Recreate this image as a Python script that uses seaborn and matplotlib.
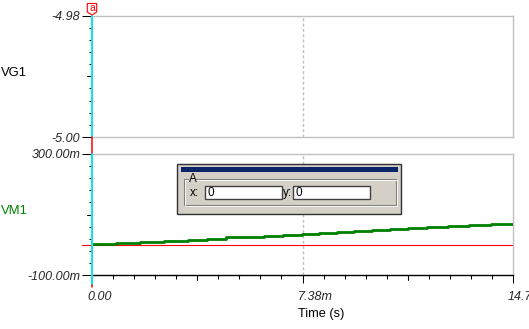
import matplotlib
matplotlib.use("Agg")
import matplotlib.pyplot as plt
import matplotlib.transforms as mtransforms
from matplotlib.patches import Rectangle, Polygon
from matplotlib.lines import Line2D
import seaborn as sns
import numpy as np
import pandas as pd

# ---- data ----
time_ms = [0.00, 0.245, 0.84, 1.68, 2.52, 3.37, 4.03, 4.70, 5.36, 6.03, 6.70, 7.36,
           7.96, 8.59, 9.19, 9.82, 10.45, 11.08, 11.75, 12.48, 13.22, 13.99, 14.76]
vm1_mV = [1.5, 3.5, 6.8, 10.1, 13.4, 16.7, 20.5, 24.0, 26.6, 29.9, 33.2, 36.5,
          39.8, 43.1, 46.4, 49.8, 53.1, 56.4, 59.7, 63.0, 66.3, 69.6, 69.6]
x_ticks = [0.0, 7.38, 14.76]
x_tick_labels = ["0.00", "7.38m", "14.76m"]
vg1_ticks = [-5.00, -4.98]
vg1_tick_labels = ["-5.00", "-4.98"]
vm1_ticks = [-100, 300]
vm1_tick_labels = ["-100.00m", "300.00m"]
cursor_x_label = "0"
cursor_y_label = "0"

W, H = 529, 329
sns.set_theme(style="white")
plt.rcParams["font.family"] = ["Liberation Sans", "DejaVu Sans"]
plt.rcParams["lines.scale_dashes"] = False

fig = plt.figure(figsize=(W / 100, H / 100), dpi=100)
fig.patch.set_facecolor("white")

def fx(px):
    return px / W

def fy(py):
    return 1 - py / H

L, R = 92, 513
ax1 = fig.add_axes([fx(L), fy(137), fx(R) - fx(L), fy(15.5) - fy(137)])
ax2 = fig.add_axes([fx(L), fy(275), fx(R) - fx(L), fy(154) - fy(275)])

GRAY = "#c0c0c0"
for ax in (ax1, ax2):
    ax.set_facecolor("white")
    ax.set_xlim(0, 14.76)
    for s in ("top", "right", "bottom"):
        ax.spines[s].set_color(GRAY)
        ax.spines[s].set_linewidth(1.0)
    ax.spines["left"].set_visible(False)
    ax.axvline(7.38, color=GRAY, lw=1.0, ls=(0, (2.2, 1.6)), zorder=0)
    ax.grid(False)

ax2.spines["bottom"].set_color("black")

# ---- VG1 panel ----
ax1.set_ylim(-5.00, -4.98)
ax1.set_xticks([])
ax1.set_yticks(vg1_ticks)
ax1.set_yticklabels(vg1_tick_labels)
ax1.set_yticks(np.arange(-5.00, -4.9799, 0.002), minor=True)

# ---- VM1 panel ----
ax2.set_ylim(-100, 300)
ax2.set_yticks(vm1_ticks)
ax2.set_yticklabels(vm1_tick_labels)
ax2.set_yticks(np.arange(-100, 301, 40), minor=True)
ax2.set_xticks(x_ticks)
ax2.set_xticklabels(x_tick_labels)
ax2.set_xticks(np.arange(0, 14.77, 0.738), minor=True)

for ax in (ax1, ax2):
    ax.tick_params(axis="y", which="major", length=7.5, width=0.75, color="black",
                   left=True, pad=0.8, labelsize=9)
    ax.tick_params(axis="y", which="minor", length=2.3, width=0.75, color="black", left=True)
    for lab in ax.get_yticklabels():
        lab.set_fontstyle("italic")
ax2.tick_params(axis="x", which="major", length=6, width=0.75, color="black",
                bottom=True, pad=5.5, labelsize=9)
ax2.tick_params(axis="x", which="minor", length=2.6, width=0.75, color="black", bottom=True)
off = mtransforms.ScaledTranslation(-5 / 100, 0, fig.dpi_scale_trans)
for lab in ax2.get_xticklabels():
    lab.set_fontstyle("italic")
    lab.set_horizontalalignment("left")
    lab.set_transform(lab.get_transform() + off)

# medium ticks
def med_ytick(ax, y):
    tr = mtransforms.blended_transform_factory(ax.transAxes, ax.transData)
    ax.add_line(Line2D([0, -5 / 421], [y, y], transform=tr, color="black",
                       lw=0.75, clip_on=False))

def med_xtick(ax, x):
    tr = mtransforms.blended_transform_factory(ax.transData, ax.transAxes)
    ax.add_line(Line2D([x, x], [0, -5 / 121], transform=tr, color="black",
                       lw=0.75, clip_on=False))

med_ytick(ax1, -4.99)
med_ytick(ax2, 100)
for xq in (3.69, 11.07):
    med_xtick(ax2, xq)

# zero reference line
ax2.axhline(0, xmin=-10 / 421, xmax=1, color="#ff0000", lw=0.8, clip_on=False, zorder=2)

# VM1 trace
df = pd.DataFrame({"t": time_ms, "v": vm1_mV})
sns.lineplot(data=df, x="t", y="v", ax=ax2, color="#008000", lw=2.0,
             drawstyle="steps-post", estimator=None, sort=False, zorder=3)
ax2.set_xlim(0, 14.76)
ax2.set_ylim(-100, 300)
ax2.set_xlabel("")
ax2.set_ylabel("")

# axis titles
fig.text(fx(298), fy(314), "Time (s)", ha="left", va="center", fontsize=9.2, color="black")
fig.text(fx(1), fy(73), "VG1", ha="left", va="center", fontsize=9.4, color="black")
fig.text(fx(1), fy(211), "VM1", ha="left", va="center", fontsize=9.4, color="#008000")

# cursor lines
def fline(x0, y0, x1, y1, **kw):
    fig.add_artist(Line2D([fx(x0), fx(x1)], [fy(y0), fy(y1)], transform=fig.transFigure, **kw))

fline(92, 15.5, 92, 137, color="#00e8f0", lw=1.4, zorder=10)
fline(92, 137, 92, 154, color="#ff0000", lw=1.1, zorder=10)
fline(92, 154, 92, 285, color="#00e8f0", lw=1.4, zorder=10)
fline(92, 285, 92, 286.5, color="#ff0000", lw=1.1, zorder=10)

# cursor marker "a"
fig.add_artist(Polygon([(fx(87.3), fy(3.5)), (fx(96.7), fy(3.5)), (fx(96.7), fy(12)),
                        (fx(92), fy(15)), (fx(87.3), fy(12))], closed=True,
                       transform=fig.transFigure, facecolor="white", edgecolor="#ff0000",
                       lw=0.8, zorder=11))
fig.text(fx(92), fy(8), "a", ha="center", va="center", fontsize=7.5, color="#ff0000", zorder=12)

# ---- cursor dialog ----
def frect(x0, y0, x1, y1, **kw):
    fig.add_artist(Rectangle((fx(x0), fy(y1)), fx(x1) - fx(x0), fy(y0) - fy(y1),
                             transform=fig.transFigure, **kw))

frect(177, 163.5, 401, 213.5, facecolor="#d4d0c8", edgecolor="#303030", lw=1.0, zorder=20)
frect(180.5, 166.5, 397.5, 172, facecolor="#0a246a", edgecolor="none", zorder=21)
frect(184, 178.5, 396, 205, facecolor="none", edgecolor="#808080", lw=0.8, zorder=21)
frect(185, 179.5, 397, 206, facecolor="none", edgecolor="white", lw=0.6, zorder=21)
frect(189, 174, 196, 183, facecolor="#d4d0c8", edgecolor="none", zorder=22)
fig.text(fx(192.5), fy(179.5), "A", ha="center", va="center", fontsize=8.5, color="black", zorder=23)
for (a, b) in ((205, 282), (293, 370)):
    frect(a, 186, b, 198.5, facecolor="white", edgecolor="#404040", lw=1.0, zorder=21)
fig.text(fx(190), fy(193), "x:", ha="left", va="center", fontsize=8.5, color="black", zorder=23)
fig.text(fx(283), fy(193), "y:", ha="left", va="center", fontsize=8.5, color="black", zorder=23)
fig.text(fx(208), fy(193), cursor_x_label, ha="left", va="center", fontsize=8.5, color="black", zorder=23)
fig.text(fx(296), fy(193), cursor_y_label, ha="left", va="center", fontsize=8.5, color="black", zorder=23)

fig.savefig("out.png", dpi=100, facecolor="white")
